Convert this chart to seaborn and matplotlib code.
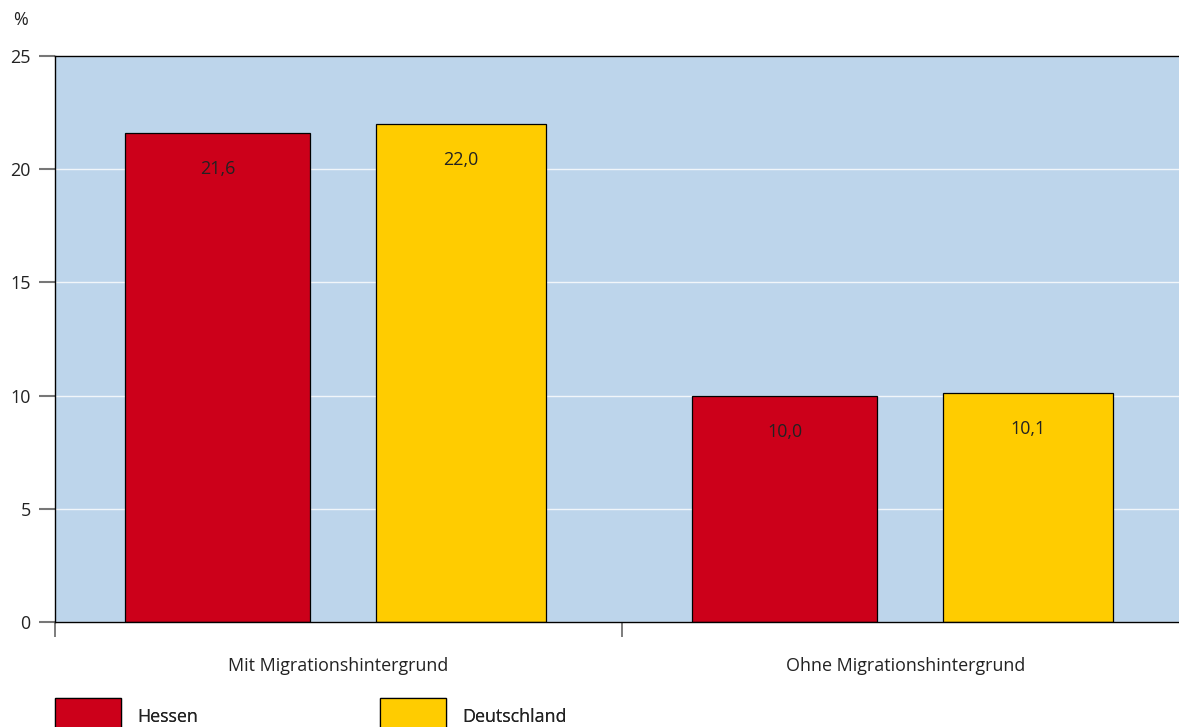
import pandas as pd
import matplotlib
matplotlib.use("Agg")
import matplotlib.pyplot as plt
import matplotlib.patches as mpatches
import seaborn as sns

# data
categories = ["Mit Migrationshintergrund", "Ohne Migrationshintergrund"]
regions = ["Hessen", "Deutschland"]
hessen = [21.6, 10.0]
deutschland = [22.0, 10.1]
value_labels = {"Hessen": ["21,6", "10,0"], "Deutschland": ["22,0", "10,1"]}

colors = {"Hessen": "#CC001A", "Deutschland": "#FFCC00"}
bg_color = "#BDD5EB"
text_color = "#222222"
fs = 12.9

df = pd.DataFrame({
    "category": categories * 2,
    "region": [regions[0]] * 2 + [regions[1]] * 2,
    "value": hessen + deutschland,
})

sns.set_style("white")
plt.rcParams["font.family"] = ["Open Sans", "DejaVu Sans"]

fig = plt.figure(figsize=(11.79, 7.27), dpi=100)
ax = fig.add_axes([55 / 1179, 1 - 622 / 727, 1134 / 1179, 566 / 727])
ax.set_facecolor(bg_color)

sns.barplot(data=df, x="category", y="value", hue="region",
            order=categories, hue_order=regions,
            palette=colors, saturation=1, edgecolor="black", linewidth=0.9,
            legend=False, ax=ax)

# reshape the bars: Hessen bars a bit wider than Deutschland bars
bar_geom = {"Hessen": (-0.376, 0.326), "Deutschland": (0.066, 0.300)}
for container, reg in zip(ax.containers, regions):
    off, w = bar_geom[reg]
    for i, bar in enumerate(container):
        bar.set_x(i + off)
        bar.set_width(w)
        ax.annotate(value_labels[reg][i],
                    (i + off + w / 2, bar.get_height()),
                    xytext=(0, -36), textcoords="offset pixels",
                    ha="center", va="center", fontsize=fs, color=text_color)

ax.set_xlim(-0.5, 1.5)
ax.set_ylim(0, 25)
ax.set_yticks([0, 5, 10, 15, 20, 25])
ax.yaxis.grid(True, color="white", linewidth=1.0, alpha=0.8)
ax.set_axisbelow(True)

ax.set_xticks([-0.5, 0.5, 1.5])
ax.set_xticklabels(["", "", ""])
ax.set_xticks([0, 1], minor=True)
ax.set_xticklabels(categories, minor=True)
ax.tick_params(axis="x", which="major", length=11, width=1.2, color="#666666",
               direction="out", bottom=True)
ax.tick_params(axis="x", which="minor", length=0, pad=25, labelsize=fs,
               labelcolor=text_color)
ax.tick_params(axis="y", length=11.5, width=1.5, color="#777777",
               direction="out", left=True, pad=6, labelsize=fs,
               labelcolor=text_color)
ax.set_xlabel("")
ax.set_ylabel("")

for side in ["left", "top", "bottom"]:
    ax.spines[side].set_visible(True)
    ax.spines[side].set_color("black")
    ax.spines[side].set_linewidth(1.0)
ax.spines["right"].set_visible(False)

fig.text(20 / 1179, 1 - 20 / 727, "%", ha="center", va="center",
         fontsize=fs, color=text_color)

# legend, one entry each so they sit at the reference positions
for reg, x0 in zip(regions, [55, 380]):
    h = mpatches.Patch(facecolor=colors[reg], edgecolor="black", linewidth=0.9,
                       label=reg)
    leg = fig.legend(handles=[h], loc="upper left",
                     bbox_to_anchor=(x0 / 1179, 1 - 698 / 727),
                     frameon=False, fontsize=fs,
                     handlelength=3.7, handleheight=2.9, handletextpad=0.9,
                     borderpad=0, borderaxespad=0)
    for t in leg.get_texts():
        t.set_color(text_color)
    fig.add_artist(leg)

fig.savefig("out.png", dpi=100)
